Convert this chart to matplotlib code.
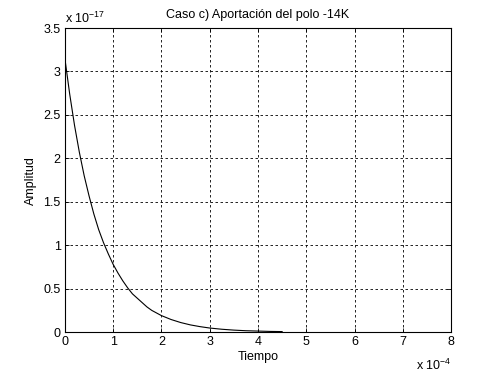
import matplotlib
matplotlib.use('Agg')
import matplotlib.pyplot as plt

# values (time in 1e-4 s, amplitude in 1e-17)
tiempo = [0, 0.1, 0.2, 0.3, 0.4, 0.5, 0.6, 0.7, 0.8, 0.9, 1.0, 1.1, 1.2, 1.3, 1.4,
          1.5, 1.6, 1.7, 1.8, 1.9, 2.0, 2.2, 2.4, 2.6, 2.8, 3.0, 3.25, 3.5, 3.75,
          4.0, 4.25, 4.5]
amplitud = [3.15, 2.74, 2.38, 2.07, 1.80, 1.57, 1.36, 1.18, 1.03, 0.90, 0.78, 0.68,
            0.59, 0.51, 0.44, 0.39, 0.34, 0.29, 0.25, 0.22, 0.19, 0.145, 0.11,
            0.083, 0.063, 0.047, 0.033, 0.023, 0.016, 0.012, 0.008, 0.006]
xticks = [0, 1, 2, 3, 4, 5, 6, 7, 8]
yticks = [0, 0.5, 1, 1.5, 2, 2.5, 3, 3.5]

plt.rcParams['font.family'] = ['Liberation Sans', 'DejaVu Sans']
plt.rcParams['font.size'] = 9
plt.rcParams['mathtext.default'] = 'regular'

fig = plt.figure(figsize=(4.99, 3.74), dpi=100)
ax = fig.add_axes([0.13, 0.112, 0.774, 0.813])
ax.plot(tiempo, amplitud, color='black', linewidth=0.8)

ax.set_xlim(0, 8)
ax.set_ylim(0, 3.5)
ax.set_xticks(xticks)
ax.set_xticklabels([str(x) for x in xticks])
ax.set_yticks(yticks)
ax.set_yticklabels(['0', '0.5', '1', '1.5', '2', '2.5', '3', '3.5'])
ax.grid(True, color='black', linestyle=(0, (3, 3)), linewidth=0.6)
ax.tick_params(direction='in', length=3, top=True, right=True, width=0.6, pad=3)
for s in ax.spines.values():
    s.set_linewidth(0.8)

ax.set_title('Caso c) Aportación del polo -14K', fontsize=9, pad=7)
ax.set_xlabel('Tiempo', labelpad=2)
ax.set_ylabel('Amplitud', labelpad=5)

ax.text(0.0, 1.008, r'x 10$^{-17}$', transform=ax.transAxes, fontsize=9,
        ha='left', va='bottom')
ax.text(1.0, -0.085, r'x 10$^{-4}$', transform=ax.transAxes, fontsize=9,
        ha='right', va='top')

fig.savefig('out.png', dpi=100)
